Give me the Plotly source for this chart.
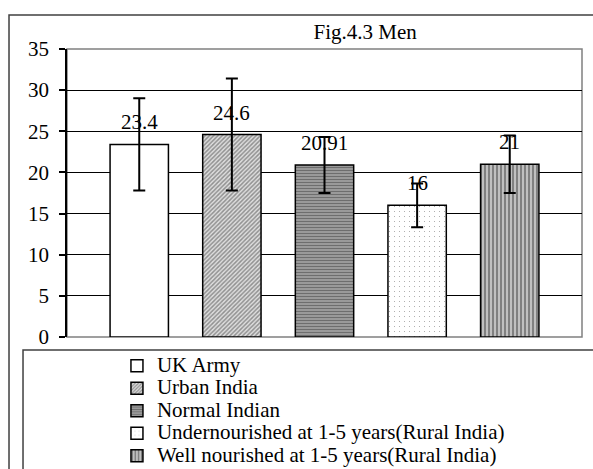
import plotly.graph_objects as go

# Fig.4.3 Men
groups = ["UK Army", "Urban India", "Normal Indian",
          "Undernourished at 1-5 years(Rural India)",
          "Well nourished at 1-5 years(Rural India)"]
values = [23.4, 24.6, 20.91, 16, 21]
errors = [5.6, 6.8, 3.4, 2.65, 3.5]
labels = ["23.4", "24.6", "20.91", "16", "21"]

# fill patterns, one per bar (Excel style b/w hatching)
patterns = [
    dict(shape="", bgcolor="white"),
    dict(shape="/", size=3, solidity=0.5, fgcolor="#404040", bgcolor="#e0e0e0"),
    dict(shape="-", size=3, solidity=0.5, fgcolor="#333333", bgcolor="#a8a8a8"),
    dict(shape=".", size=5, solidity=0.04, fgcolor="#444444", bgcolor="white"),
    dict(shape="|", size=4, solidity=0.45, fgcolor="#333333", bgcolor="#c0c0c0"),
]

FONT = "Liberation Serif"

fig = go.Figure()
for name, v, e, pat in zip(groups, values, errors, patterns):
    fig.add_trace(go.Bar(
        x=[name], y=[v],
        name='<span style="font-size:21px">' + name + '</span>',
        marker=dict(color="white", pattern=pat,
                    line=dict(color="black", width=1.5)),
        error_y=dict(type="data", array=[e], color="black",
                     thickness=2, width=6),
        width=0.63,
    ))

# data labels sit a bit above the bar tops
for name, v, lab in zip(groups, values, labels):
    fig.add_annotation(x=name, y=v, text=lab, showarrow=False,
                       yshift=22, font=dict(family=FONT, size=21, color="black"))

fig.update_layout(
    width=593, height=469,
    margin=dict(l=67, r=11, t=49, b=132, autoexpand=False),
    paper_bgcolor="white", plot_bgcolor="white",
    font=dict(family=FONT, size=21, color="black"),
    barmode="overlay",
    title=dict(text="Fig.4.3 Men", x=0.579, xref="paper", xanchor="center",
               y=0.932, yref="container", yanchor="middle",
               font=dict(family=FONT, size=21)),
    showlegend=True,
    legend=dict(x=0.097, y=0.255, xanchor="left", yanchor="top",
                yref="container",
                font=dict(family=FONT, size=15), bgcolor="rgba(0,0,0,0)",
                itemwidth=30),
    shapes=[
        # outer chart border
        dict(type="rect", xref="paper", yref="paper",
             x0=-0.1126, x1=1.2, y0=-0.7, y1=1.118,
             line=dict(color="#404040", width=1.5)),
        # legend box
        dict(type="rect", xref="paper", yref="paper",
             x0=-0.0854, x1=1.2, y0=-0.7, y1=-0.045,
             line=dict(color="#404040", width=1.5)),
        # plot frame
        dict(type="rect", xref="paper", yref="paper",
             x0=0, x1=1, y0=0, y1=1,
             line=dict(color="#808080", width=1.5), layer="below"),
    ],
)

fig.update_xaxes(type="category", categoryorder="array", categoryarray=groups,
                 range=[-0.78, 4.78], showticklabels=False, ticks="",
                 showgrid=False, zeroline=False, showline=False)
fig.update_yaxes(range=[0, 35], dtick=5, showgrid=True, gridcolor="black",
                 gridwidth=1, zeroline=False, showline=True, linecolor="black",
                 linewidth=1.5, ticks="outside", ticklen=6, tickcolor="black",
                 tickwidth=1.5, ticklabelstandoff=6,
                 tickfont=dict(family=FONT, size=21))

# drop the default 8px body margin so the figure sits at the page corner
fig.write_html("out.html", config={"displayModeBar": False},
               post_script="document.body.style.margin='0';")
